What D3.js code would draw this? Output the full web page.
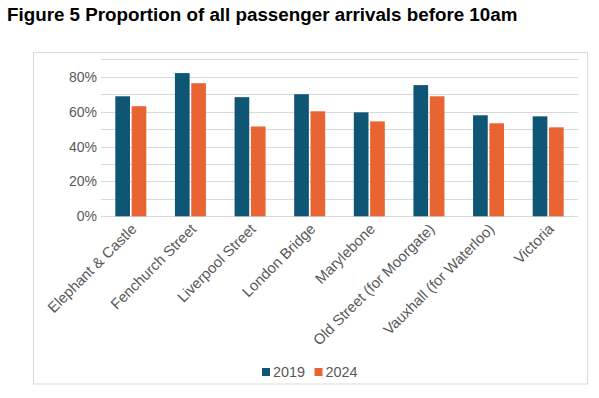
<!DOCTYPE html>
<html>
<head>
<meta charset="utf-8">
<script src="https://cdn.jsdelivr.net/npm/d3@7"></script>
<style>
  body { margin: 0; background: #fff; }
  svg { display: block; font-family: "Liberation Sans", Arial, sans-serif; }
</style>
</head>
<body>
<svg id="chart" width="599" height="398"></svg>
<script>
const stations = ["Elephant & Castle", "Fenchurch Street", "Liverpool Street", "London Bridge",
  "Marylebone", "Old Street (for Moorgate)", "Vauxhall (for Waterloo)", "Victoria"];
const years = ["2019", "2024"];
const values2019 = [0.688, 0.821, 0.683, 0.700, 0.596, 0.752, 0.579, 0.573];
const values2024 = [0.631, 0.763, 0.515, 0.602, 0.544, 0.688, 0.533, 0.510];
const yTicks = [0, 0.2, 0.4, 0.6, 0.8];
const colors = ["#0e5674", "#e96433"];

const svg = d3.select("#chart");

svg.append("text")
  .attr("x", 7).attr("y", 21)
  .attr("font-size", 18.8).attr("font-weight", "bold").attr("fill", "#000")
  .text("Figure 5 Proportion of all passenger arrivals before 10am");

// outer frame
svg.append("rect")
  .attr("x", 33.5).attr("y", 52.5).attr("width", 554).attr("height", 331.5)
  .attr("fill", "none").attr("stroke", "#d9d9d9");

const x = d3.scaleBand().domain(stations).range([101, 578]);
const xs = d3.scaleBand().domain(years)
  .range([x.bandwidth() / 2 - 15.5, x.bandwidth() / 2 + 15.5]).paddingInner(0.1);
const y = d3.scaleLinear().domain([0, 0.9]).range([216.3, 59.3]);

// gridlines every 10%
svg.append("g")
  .selectAll("line")
  .data(d3.range(0, 10).map(i => i / 10))
  .join("line")
  .attr("x1", 101).attr("x2", 578)
  .attr("y1", d => Math.round(y(d)) + 0.5).attr("y2", d => Math.round(y(d)) + 0.5)
  .attr("stroke", "#d9d9d9");

const yAxis = svg.append("g")
  .attr("transform", "translate(101,0)")
  .call(d3.axisLeft(y).tickValues(yTicks).tickFormat(d3.format(".0%")).tickSize(0).tickPadding(4));
yAxis.select(".domain").remove();
yAxis.selectAll("text").attr("font-size", 14).attr("fill", "#595959").attr("font-family", "Liberation Sans, Arial, sans-serif");

const series = [values2019, values2024];
const groups = svg.append("g").selectAll("g")
  .data(stations)
  .join("g")
  .attr("transform", d => `translate(${x(d)},0)`);

groups.selectAll("rect")
  .data((d, i) => years.map((yr, k) => ({ yr, v: series[k][i], k })))
  .join("rect")
  .attr("x", d => xs(d.yr))
  .attr("width", xs.bandwidth())
  .attr("y", d => y(d.v))
  .attr("height", d => y(0) - y(d.v))
  .attr("fill", d => colors[d.k]);

// category labels
svg.append("g").selectAll("text")
  .data(stations)
  .join("text")
  .attr("transform", d => `translate(${x(d) + x.bandwidth() / 2 + 3},${y(0) + 10}) rotate(-45)`)
  .attr("text-anchor", "end")
  .attr("dy", "0.35em")
  .attr("font-size", 14.8)
  .attr("fill", "#595959")
  .text(d => d);

// legend
const legend = svg.append("g").attr("transform", "translate(262,372)");
const items = legend.selectAll("g")
  .data(years)
  .join("g")
  .attr("transform", (d, i) => `translate(${i * 52.5},0)`);
items.append("rect")
  .attr("x", 0).attr("y", -4).attr("width", 8).attr("height", 8)
  .attr("fill", (d, i) => colors[i]);
items.append("text")
  .attr("x", 11).attr("y", 0).attr("dy", "0.35em")
  .attr("font-size", 14.4).attr("fill", "#595959")
  .text(d => d);
</script>
</body>
</html>
